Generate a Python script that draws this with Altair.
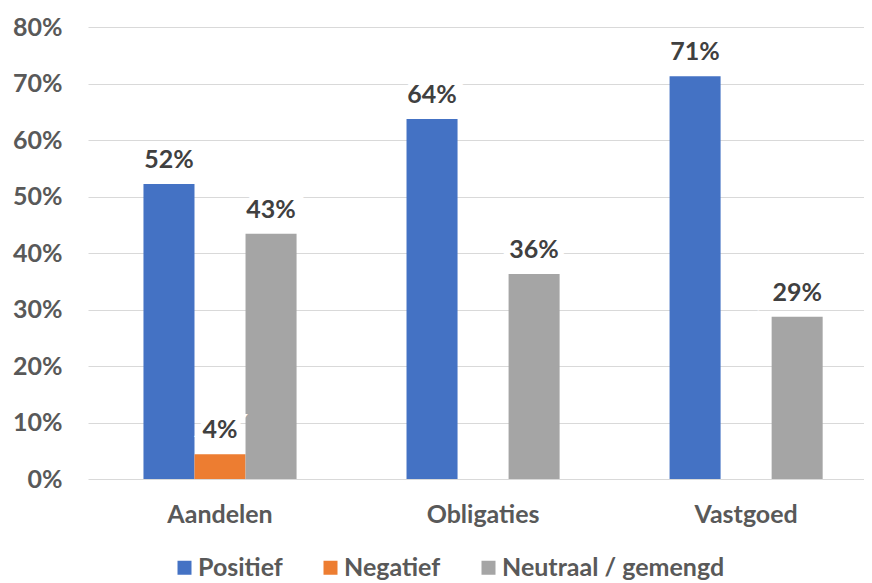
import altair as alt
import pandas as pd

categories = ["Aandelen", "Obligaties", "Vastgoed"]
series = ["Positief", "Negatief", "Neutraal / gemengd"]
positief = [0.522, 0.637, 0.713]
negatief = [0.044, 0.0, 0.0]
neutraal = [0.434, 0.363, 0.287]
colors = ["#4472C4", "#ED7D31", "#A5A5A5"]
y_ticks = [0, 0.1, 0.2, 0.3, 0.4, 0.5, 0.6, 0.7, 0.8]

rows = []
for i, c in enumerate(categories):
    for s, vals in zip(series, [positief, negatief, neutraal]):
        rows.append({"categorie": c, "reeks": s, "waarde": vals[i]})
df = pd.DataFrame(rows)

FONT = "Lato"
FS = 25

x = alt.X(
    "categorie:N",
    sort=categories,
    scale=alt.Scale(paddingInner=0.418, paddingOuter=0.184, align=0.573),
    axis=alt.Axis(
        title=None, labelAngle=0, labelFont=FONT, labelFontWeight="bold",
        labelFontSize=FS, labelColor="#595959", ticks=False, tickSize=0,
        domain=False, labelPadding=23, grid=False,
    ),
)
y = alt.Y(
    "waarde:Q",
    scale=alt.Scale(domain=[0, 0.8], nice=False),
    axis=alt.Axis(
        values=y_ticks, format=".0%", title=None, labelFont=FONT,
        labelFontWeight="bold", labelFontSize=FS, labelColor="#595959",
        grid=True, gridColor="#D9D9D9", gridWidth=1, domain=False,
        ticks=False, tickSize=0, labelPadding=26,
    ),
)
xoff = alt.XOffset("reeks:N", sort=series, scale=alt.Scale(paddingInner=0, paddingOuter=0))
color = alt.Color(
    "reeks:N",
    sort=series,
    scale=alt.Scale(domain=series, range=colors),
    legend=alt.Legend(
        title=None, orient="none", legendX=84, legendY=528, direction="horizontal",
        labelFont=FONT, labelFontWeight="bold", labelFontSize=FS,
        labelColor="#595959", symbolType="square", symbolSize=196,
        symbolStrokeWidth=0, columnPadding=35, labelOffset=1, labelLimit=400,
    ),
)

base = alt.Chart(df)
bars = base.mark_bar().encode(x=x, xOffset=xoff, y=y, color=color)

lab_enc = dict(x=x, xOffset=xoff, y=y, text=alt.Text("waarde:Q", format=".0%"))
halo = base.mark_text(
    font=FONT, fontWeight="bold", fontSize=FS, baseline="alphabetic", dy=-16,
    color="white", stroke="white", strokeWidth=12,
).encode(**lab_enc).transform_filter("datum.waarde > 0")
labels = base.mark_text(
    font=FONT, fontWeight="bold", fontSize=FS, baseline="alphabetic", dy=-16,
    color="#404040",
).encode(**lab_enc).transform_filter("datum.waarde > 0")

chart = (
    alt.layer(bars, halo, labels)
    .properties(
        width=776, height=452, autosize="none",
        padding={"left": 80, "top": 19, "right": 0, "bottom": 104},
        background="white",
    )
    .configure_view(stroke=None)
)

chart.save("out.html", embed_options={"renderer": "svg", "actions": False})
